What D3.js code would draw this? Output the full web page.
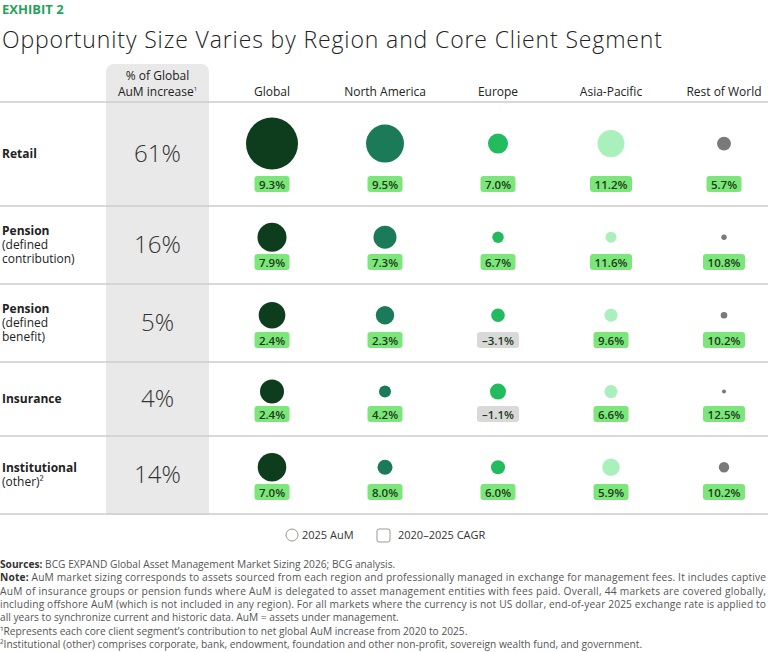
<!DOCTYPE html><html><head><meta charset="utf-8"><script src="https://cdn.jsdelivr.net/npm/d3@7"></script>
<style>body{margin:0;background:#fff}text{font-family:"Open Sans",sans-serif}</style></head><body><svg id="c" width="768" height="652"></svg>
<script>
const regions=["Global","North America","Europe","Asia-Pacific","Rest of World"];
const segments=[["Retail"],["Pension","(defined","contribution)"],["Pension","(defined","benefit)"],["Insurance"],["Institutional","(other)²"]];
const shareOfIncrease=["61%","16%","5%","4%","14%"];
const aum=[[60,32,8.9,16.2,4.3],[18.7,11.7,2.9,2.7,0.65],[15.7,7.5,4.1,3.75,0.97],[12.8,3.2,5.7,3.75,0.36],[18.1,5.0,4.35,6.7,2.4]];
const cagr=[[9.3,9.5,7.0,11.2,5.7],[7.9,7.3,6.7,11.6,10.8],[2.4,2.3,-3.1,9.6,10.2],[2.4,4.2,-1.1,6.6,12.5],[7.0,8.0,6.0,5.9,10.2]];
const colors=["#0e3d1e","#1b7a58","#22bb5e","#a9f0bc","#7a7a7a"];
const svg=d3.select("#c");
svg.append("text").attr("x",2).attr("y",14).attr("fill","#1fa35a").attr("font-weight",700).attr("font-size",13).text("EXHIBIT 2");
svg.append("text").attr("x",2).attr("y",48).attr("fill","#222").attr("font-weight",300).attr("font-size",23).attr("textLength",660).text("Opportunity Size Varies by Region and Core Client Segment");
svg.append("path").attr("d","M106,515V72a8,8 0 0 1 8,-8H201a8,8 0 0 1 8,8V515Z").attr("fill","#e9e9e9");
const x=d3.scalePoint().domain(regions).range([272,724]);
const rowTop=[102,206,284,362,436,514];
const r=d3.scaleSqrt().domain([0,60]).range([0,26]);
const hdr=svg.append("g").attr("font-size",12).attr("fill","#222").attr("text-anchor","middle");
regions.forEach(g=>hdr.append("text").attr("x",x(g)).attr("y",96).text(g));
hdr.append("text").attr("x",157.5).attr("y",80).text("% of Global");
hdr.append("text").attr("x",157.5).attr("y",96).html('AuM increase<tspan font-size="6" dy="-5">1</tspan>');
rowTop.forEach(y=>svg.append("line").attr("x1",0).attr("x2",768).attr("y1",y).attr("y2",y).attr("stroke","#ccc").attr("stroke-width",1.5));
segments.forEach((s,i)=>{
  const t=rowTop[i],b=rowTop[i+1],m=(t+b)/2;
  const cy=t+(b-t)*0.4, by=b-30;
  const lt=svg.append("text").attr("x",2).attr("font-size",12).attr("fill","#222");
  const y0=m-(s.length-1)*7+4;
  s.forEach((l,k)=>lt.append("tspan").attr("x",2).attr("y",y0+k*14).attr("font-weight",k==0?700:400).text(l));
  svg.append("text").attr("x",157.5).attr("y",m+8).attr("text-anchor","middle").attr("font-size",24).attr("font-weight",300).attr("fill","#333").text(shareOfIncrease[i]);
  regions.forEach((g,j)=>{
    svg.append("circle").attr("cx",x(g)).attr("cy",cy).attr("r",r(aum[i][j])).attr("fill",colors[j]);
    const v=cagr[i][j],lab=(v<0?"–"+Math.abs(v).toFixed(1):v.toFixed(1))+"%";
    const w=lab.length>4?42:35;
    svg.append("rect").attr("x",x(g)-w/2).attr("y",by).attr("width",w).attr("height",16).attr("rx",3).attr("fill",v<0?"#d9d9d9":"#7de67a");
    svg.append("text").attr("x",x(g)).attr("y",by+12.5).attr("text-anchor","middle").attr("font-size",11.5).attr("font-weight",600).attr("fill","#1c3a1c").text(lab);
  });
});
const lg=svg.append("g").attr("font-size",11).attr("fill","#333");
lg.append("circle").attr("cx",292).attr("cy",535).attr("r",6).attr("fill","#fff").attr("stroke","#999");
lg.append("text").attr("x",302).attr("y",539).text("2025 AuM");
lg.append("rect").attr("x",377).attr("y",529).attr("width",13).attr("height",13).attr("rx",2).attr("fill","#fff").attr("stroke","#999");
lg.append("text").attr("x",398).attr("y",539).text("2020–2025 CAGR");
const notes=[["Sources:"," BCG EXPAND Global Asset Management Market Sizing 2026; BCG analysis."],
["Note:"," AuM market sizing corresponds to assets sourced from each region and professionally managed in exchange for management fees. It includes captive"],
[""," AuM of insurance groups or pension funds where AuM is delegated to asset management entities with fees paid. Overall, 44 markets are covered globally,"],
[""," including offshore AuM (which is not included in any region). For all markets where the currency is not US dollar, end-of-year 2025 exchange rate is applied to"],
[""," all years to synchronize current and historic data. AuM = assets under management."],
["¹","Represents each core client segment’s contribution to net global AuM increase from 2020 to 2025."],
["²","Institutional (other) comprises corporate, bank, endowment, foundation and other non-profit, sovereign wealth fund, and government."]];
notes.forEach((n,i)=>{
  const t=svg.append("text").attr("x",0).attr("y",568+i*13.3).attr("font-size",10.2).attr("fill","#555").attr("textLength",i>=1&&i<=3?766:null);
  t.append("tspan").attr("font-weight",n[0].length>1?700:400).attr("fill",n[0].length>1?"#333":"#555").text(n[0]);
  t.append("tspan").text(n[0]===""?n[1].slice(1):n[1]);
});
</script></body></html>
